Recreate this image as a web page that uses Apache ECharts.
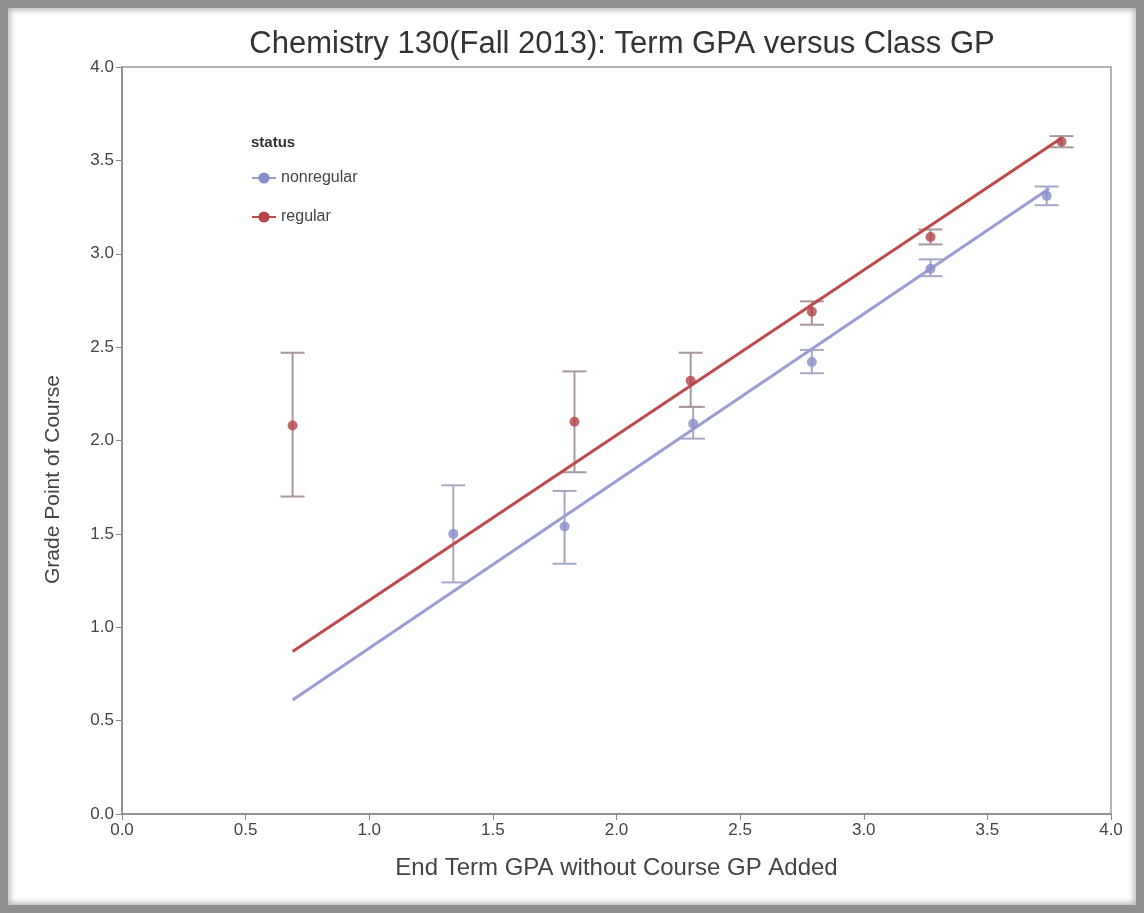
<!DOCTYPE html>
<html>
<head>
<meta charset="utf-8">
<script src="https://cdn.jsdelivr.net/npm/echarts@6/dist/echarts.min.js"></script>
<style>
  html, body { margin: 0; padding: 0; background: #fff; }
  #chart { position: absolute; left: 0; top: 0; width: 1144px; height: 913px; }
  #frame { position: absolute; left: 0; top: 0; width: 1144px; height: 913px; box-sizing: border-box;
           border: 8px solid #8e8e8e; box-shadow: inset 0 0 6px 2px #b5b5b5; pointer-events: none; }
</style>
</head>
<body>
<div id="chart"></div>
<div id="frame"></div>
<script>
// ---- data ----
const titleText = 'Chemistry 130(Fall 2013): Term GPA versus Class GP';
const xAxisName = 'End Term GPA without Course GP Added';
const yAxisName = 'Grade Point of Course';
const legendTitle = 'status';
const seriesNames = ['nonregular', 'regular'];

// regular students: means and error bar bounds
const regX    = [0.69, 1.83, 2.30, 2.79, 3.27, 3.80];
const regY    = [2.08, 2.10, 2.32, 2.69, 3.09, 3.60];
const regLow  = [1.70, 1.83, 2.18, 2.62, 3.05, 3.57];
const regHigh = [2.47, 2.37, 2.47, 2.745, 3.13, 3.63];

// nonregular students
const nonX    = [1.34, 1.79, 2.31, 2.79, 3.27, 3.74];
const nonY    = [1.50, 1.54, 2.09, 2.42, 2.92, 3.31];
const nonLow  = [1.24, 1.34, 2.01, 2.36, 2.88, 3.26];
const nonHigh = [1.76, 1.73, 2.18, 2.485, 2.97, 3.36];

// fitted regression lines (endpoints)
const regFitX = [0.69, 3.80];
const regFitY = [0.87, 3.62];
const nonFitX = [0.69, 3.75];
const nonFitY = [0.61, 3.35];

// ticks
const xTicks = [0, 0.5, 1.0, 1.5, 2.0, 2.5, 3.0, 3.5, 4.0];
const yTicks = [0, 0.5, 1.0, 1.5, 2.0, 2.5, 3.0, 3.5, 4.0];

// ---- build ----
const zip = (a, b) => a.map((v, i) => [v, b[i]]);
const zip3 = (a, b, c) => a.map((v, i) => [v, b[i], c[i]]);

const colReg = '#c0494c', colRegPt = '#b34449', colRegErr = '#a9979e';
const colNon = '#9a9ed4', colNonPt = '#8a8fcb', colNonErr = '#a7a8c6';

function errRender(color) {
  return function (params, api) {
    const x = api.value(0);
    const lo = api.coord([x, api.value(1)]);
    const hi = api.coord([x, api.value(2)]);
    const w = 12;
    const style = { stroke: color, lineWidth: 2 };
    return {
      type: 'group',
      children: [
        { type: 'line', shape: { x1: lo[0], y1: lo[1], x2: hi[0], y2: hi[1] }, style },
        { type: 'line', shape: { x1: lo[0] - w, y1: lo[1], x2: lo[0] + w, y2: lo[1] }, style },
        { type: 'line', shape: { x1: hi[0] - w, y1: hi[1], x2: hi[0] + w, y2: hi[1] }, style }
      ]
    };
  };
}

const font = 'Liberation Sans, Arial, sans-serif';
const chart = echarts.init(document.getElementById('chart'), null, { renderer: 'canvas' });
chart.setOption({
  animation: false,
  backgroundColor: '#ffffff',
  textStyle: { fontFamily: font },
  title: [
    { text: titleText, left: 617, top: 24, textAlign: 'center',
      textStyle: { fontSize: 31, fontWeight: 'normal', color: '#333', fontFamily: font } },
    { text: legendTitle, left: 246, top: 130,
      textStyle: { fontSize: 15, fontWeight: 'bold', color: '#333', fontFamily: font } }
  ],
  legend: {
    data: seriesNames,
    orient: 'vertical',
    left: 246, top: 165,
    itemGap: 23,
    itemWidth: 24, itemHeight: 14,
    textStyle: { fontSize: 16, color: '#444', fontFamily: font }
  },
  grid: { left: 122, right: 33, top: 67, bottom: 99, containLabel: false,
          show: true, borderColor: '#9a9a9a', borderWidth: 1.5 },
  xAxis: {
    type: 'value', min: 0, max: 4, interval: 0.5,
    name: xAxisName, nameLocation: 'middle', nameGap: 42,
    nameTextStyle: { fontSize: 24, color: '#444', fontFamily: font },
    axisLine: { show: true, lineStyle: { color: '#888', width: 1.5 } },
    axisTick: { show: true, length: 6, lineStyle: { color: '#888' } },
    axisLabel: { fontSize: 17, color: '#444', margin: 8,
                 formatter: v => xTicks.includes(v) ? v.toFixed(1) : '' },
    splitLine: { show: false }
  },
  yAxis: {
    type: 'value', min: 0, max: 4, interval: 0.5,
    name: yAxisName, nameLocation: 'middle', nameGap: 58,
    nameTextStyle: { fontSize: 21, color: '#444', fontFamily: font, padding: [0, 78, 0, 0] },
    axisLine: { show: true, lineStyle: { color: '#888', width: 1.5 } },
    axisTick: { show: true, length: 6, lineStyle: { color: '#888' } },
    axisLabel: { fontSize: 17, color: '#444', margin: 8,
                 formatter: v => yTicks.includes(v) ? v.toFixed(1) : '' },
    splitLine: { show: false }
  },
  series: [
    { name: 'nonregular', type: 'line', data: zip(nonFitX, nonFitY),
      showSymbol: false, symbol: 'circle', symbolSize: 9,
      lineStyle: { color: colNon, width: 3 }, itemStyle: { color: colNonPt }, z: 3 },
    { name: 'regular', type: 'line', data: zip(regFitX, regFitY),
      showSymbol: false, symbol: 'circle', symbolSize: 9,
      lineStyle: { color: colReg, width: 3 }, itemStyle: { color: colRegPt }, z: 3 },
    { name: 'nonregular-err', type: 'custom', renderItem: errRender(colNonErr),
      data: zip3(nonX, nonLow, nonHigh), encode: { x: 0, y: [1, 2] }, z: 2 },
    { name: 'regular-err', type: 'custom', renderItem: errRender(colRegErr),
      data: zip3(regX, regLow, regHigh), encode: { x: 0, y: [1, 2] }, z: 2 },
    { name: 'nonregular-pts', type: 'scatter', data: zip(nonX, nonY),
      symbol: 'circle', symbolSize: 10, itemStyle: { color: colNonPt }, z: 4 },
    { name: 'regular-pts', type: 'scatter', data: zip(regX, regY),
      symbol: 'circle', symbolSize: 10, itemStyle: { color: colRegPt }, z: 4 }
  ]
});
</script>
</body>
</html>
